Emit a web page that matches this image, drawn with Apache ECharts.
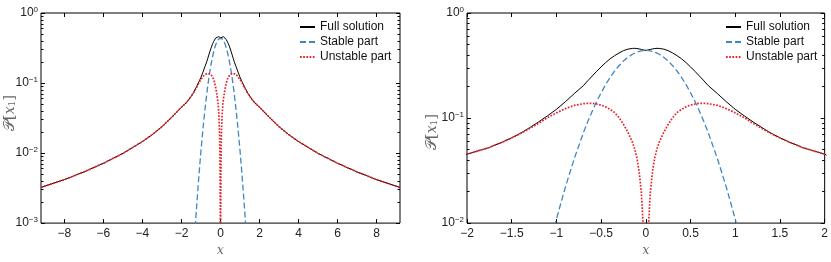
<!DOCTYPE html>
<html><head><meta charset="utf-8">
<script src="https://cdn.jsdelivr.net/npm/echarts@6/dist/echarts.min.js"></script>
<style>html,body{margin:0;padding:0;background:#fff}#c{width:831px;height:262px}</style>
</head><body><div id="c"></div>
<script>
// ---- data ----
const xs = [-9.2,-8,-7,-6,-5,-4,-3.5,-3,-2.5,-2,-1.75,-1.6,-1.5,-1.4,-1.3,-1.2,-1.1,-1,-0.9,-0.8,-0.7,-0.65,-0.6,-0.55,-0.5,-0.45,-0.4,-0.35,-0.3,-0.25,-0.2,-0.15,-0.125,-0.1,-0.075,-0.05,-0.03,-0.02,-0.01,
  0,
  0.01,0.02,0.03,0.05,0.075,0.1,0.125,0.15,0.2,0.25,0.3,0.35,0.4,0.45,0.5,0.55,0.6,0.65,0.7,0.8,0.9,1,1.1,1.2,1.3,1.4,1.5,1.6,1.75,2,2.5,3,3.5,4,5,6,7,8,9.2];

const fullSolution = [0.00323,0.00418,0.00538,0.00715,0.0099,0.0146,0.0183,0.0238,0.0325,0.0452,0.0525,0.0593,0.0649,0.0718,0.081,0.0918,0.105,0.121,0.143,0.171,0.203,0.226,0.251,0.278,0.307,0.337,0.366,0.392,0.416,0.438,0.453,0.46,0.461,0.459,0.455,0.45,0.445,0.443,0.441,
  0.44,
  0.441,0.443,0.445,0.45,0.455,0.459,0.461,0.46,0.453,0.438,0.416,0.392,0.366,0.337,0.307,0.278,0.251,0.226,0.203,0.171,0.143,0.121,0.105,0.0918,0.081,0.0718,0.0649,0.0593,0.0525,0.0452,0.0325,0.0238,0.0183,0.0146,0.0099,0.00715,0.00538,0.00418,0.00323];

const stablePart = [null,null,null,null,null,null,null,null,null,null,null,0.000034,0.000107,0.00031,0.00085,0.00214,0.005,0.0109,0.022,0.0412,0.0718,0.0922,0.116,0.144,0.174,0.208,0.243,0.28,0.315,0.349,0.379,0.405,0.415,0.424,0.431,0.436,0.439,0.439,0.44,
  0.44,
  0.44,0.439,0.439,0.436,0.431,0.424,0.415,0.405,0.379,0.349,0.315,0.28,0.243,0.208,0.174,0.144,0.116,0.0922,0.0718,0.0412,0.022,0.0109,0.005,0.00214,0.00085,0.00031,0.000107,0.000034,null,null,null,null,null,null,null,null,null,null,null];

const unstablePart = [0.00323,0.00418,0.00538,0.00715,0.0099,0.0146,0.0183,0.0238,0.0325,0.0452,0.0525,0.0592,0.0646,0.0711,0.0794,0.089,0.101,0.112,0.123,0.132,0.137,0.138,0.138,0.136,0.133,0.128,0.121,0.113,0.101,0.087,0.073,0.059,0.051,0.042,0.031,0.0195,0.0095,0.0048,0.0015,
  0.000001,
  0.0015,0.0048,0.0095,0.0195,0.031,0.042,0.051,0.059,0.073,0.087,0.101,0.113,0.121,0.128,0.133,0.136,0.138,0.138,0.137,0.132,0.123,0.112,0.101,0.089,0.0794,0.0711,0.0646,0.0592,0.0525,0.0452,0.0325,0.0238,0.0183,0.0146,0.0099,0.00715,0.00538,0.00418,0.00323];

const seriesNames = ['Full solution','Stable part','Unstable part'];

const xTicksL = [-8,-6,-4,-2,0,2,4,6,8];
const xLabelsL = ['\u22128','\u22126','\u22124','\u22122','0','2','4','6','8'];
const xTicksR = [-2,-1.5,-1,-0.5,0,0.5,1,1.5,2];
const xLabelsR = ['\u22122','\u22121.5','\u22121','\u22120.5','0','0.5','1','1.5','2'];

const yTicksL = [0.001,0.01,0.1,1];
const yExpL = ['\u22123','\u22122','\u22121','0'];
const yMinorL = [0.002,0.003,0.004,0.005,0.006,0.007,0.008,0.009,0.02,0.03,0.04,0.05,0.06,0.07,0.08,0.09,0.2,0.3,0.4,0.5,0.6,0.7,0.8,0.9];
const yTicksR = [0.01,0.1,1];
const yExpR = ['\u22122','\u22121','0'];
const yMinorR = [0.02,0.03,0.04,0.05,0.06,0.07,0.08,0.09,0.2,0.3,0.4,0.5,0.6,0.7,0.8,0.9];

// ---- chart ----
const colors = ['#000000','#3d86c6','#e8222a'];
const lineStyles = [
  {color: colors[0], width: 1, type: 'solid'},
  {color: colors[1], width: 1.3, type: [6, 3]},
  {color: colors[2], width: 1.7, type: [1.7, 1.5]}
];
const seriesVals = [fullSolution, stablePart, unstablePart];
function pairs(vals){ const out=[]; xs.forEach((x,i)=>{ if(vals[i]!==null) out.push([x, vals[i]]); }); return out; }

const FONT = 'Liberation Sans';
const noLine = {show:false, onZero:false};
function xAxes(grid, min, max, ticks, labels){
  const fmt = v => { const i = ticks.findIndex(t => Math.abs(t-v) < 1e-9); return i>=0 ? labels[i] : ''; };
  return [
    {gridIndex: grid, type:'value', min, max, position:'bottom',
     axisLine:noLine, splitLine:{show:false},
     axisTick:{show:true, inside:true, length:4, customValues: ticks, lineStyle:{color:'#000'}},
     axisLabel:{show:true, customValues: ticks, formatter: fmt, margin:5, fontSize:12, color:'#222', fontFamily: FONT},
     name:'x', nameLocation:'middle', nameGap:9,
     nameTextStyle:{fontFamily:'DejaVu Serif', fontStyle:'italic', fontSize:12, color:'#666'}},
    {gridIndex: grid, type:'value', min, max, position:'top',
     axisLine:noLine, splitLine:{show:false},
     axisTick:{show:true, inside:true, length:4, customValues: ticks, lineStyle:{color:'#000'}},
     axisLabel:{show:false}}
  ];
}
function yAxes(grid, min, max, ticks, exps, minor){
  const fmt = v => { const i = ticks.findIndex(t => Math.abs(Math.log10(t)-Math.log10(v)) < 1e-6); return i>=0 ? '{b|10}{s|' + exps[i] + '}' : ''; };
  const base = {gridIndex: grid, type:'log', logBase:10, min, max, axisLine:noLine, splitLine:{show:false}};
  return [
    Object.assign({}, base, {position:'left',
      axisTick:{show:true, inside:true, length:4, customValues: ticks, lineStyle:{color:'#000'}},
      axisLabel:{show:true, customValues: ticks, formatter: fmt, margin:3, color:'#222',
        rich:{b:{fontSize:12, fontFamily: FONT, color:'#222', lineHeight:14},
              s:{fontSize:8, fontFamily: FONT, color:'#222', verticalAlign:'top', lineHeight:8, padding:[0,0,6,0]}}}}),
    Object.assign({}, base, {position:'left',
      axisTick:{show:true, inside:true, length:2.5, customValues: minor, lineStyle:{color:'#000'}},
      axisLabel:{show:false}}),
    Object.assign({}, base, {position:'right',
      axisTick:{show:true, inside:true, length:4, customValues: ticks, lineStyle:{color:'#000'}},
      axisLabel:{show:false}}),
    Object.assign({}, base, {position:'right',
      axisTick:{show:true, inside:true, length:2.5, customValues: minor, lineStyle:{color:'#000'}},
      axisLabel:{show:false}})
  ];
}

const series = [];
[0,1].forEach(g => {
  seriesVals.forEach((vals, k) => {
    series.push({name: seriesNames[k], type:'line', xAxisIndex: g*2, yAxisIndex: g*4,
      data: pairs(vals), showSymbol:false, symbol:'none', clip:true,
      lineStyle: lineStyles[k], itemStyle:{color: colors[k]}, silent:true, z: 2+k});
  });
});

function legend(left){
  return {left, top:19.5, orient:'vertical', padding:0, itemGap:0, itemWidth:15, itemHeight:15,
    data: seriesNames, itemStyle:{opacity:0},
    textStyle:{fontSize:12, color:'#111', fontFamily: FONT, lineHeight:15}};
}

function yName(x, y){
  return {type:'text', x, y, rotation: Math.PI/2,
    style:{text:'{p|\uD835\uDCAB}{n|[}{i|x}{u|1}{n|]}', align:'center', verticalAlign:'middle', fill:'#666',
      rich:{p:{fontSize:15, fontFamily:'DejaVu Serif', fill:'#666'},
            n:{fontSize:15, fontFamily:'DejaVu Serif', fill:'#666'},
            i:{fontSize:14, fontFamily:'DejaVu Serif', fontStyle:'italic', fill:'#666'},
            u:{fontSize:9, fontFamily:'DejaVu Serif', fill:'#666', padding:[6,0,0,0]}}}};
}

const chart = echarts.init(document.getElementById('c'), null, {renderer:'canvas'});
chart.setOption({
  animation:false,
  backgroundColor:'#fff',
  grid:[
    {left:41, top:13, width:359, height:224, show:true, borderColor:'#000', borderWidth:1},
    {left:467, top:13, width:358, height:224, show:true, borderColor:'#000', borderWidth:1}
  ],
  xAxis: [].concat(xAxes(0, -9.2, 9.2, xTicksL, xLabelsL), xAxes(1, -2, 2, xTicksR, xLabelsR)),
  yAxis: [].concat(yAxes(0, 0.001, 1, yTicksL, yExpL, yMinorL), yAxes(1, 0.01, 1, yTicksR, yExpR, yMinorR)),
  legend:[legend(299), legend(725)],
  graphic:[yName(10, 113), yName(432, 132)],
  series
});
</script></body></html>
